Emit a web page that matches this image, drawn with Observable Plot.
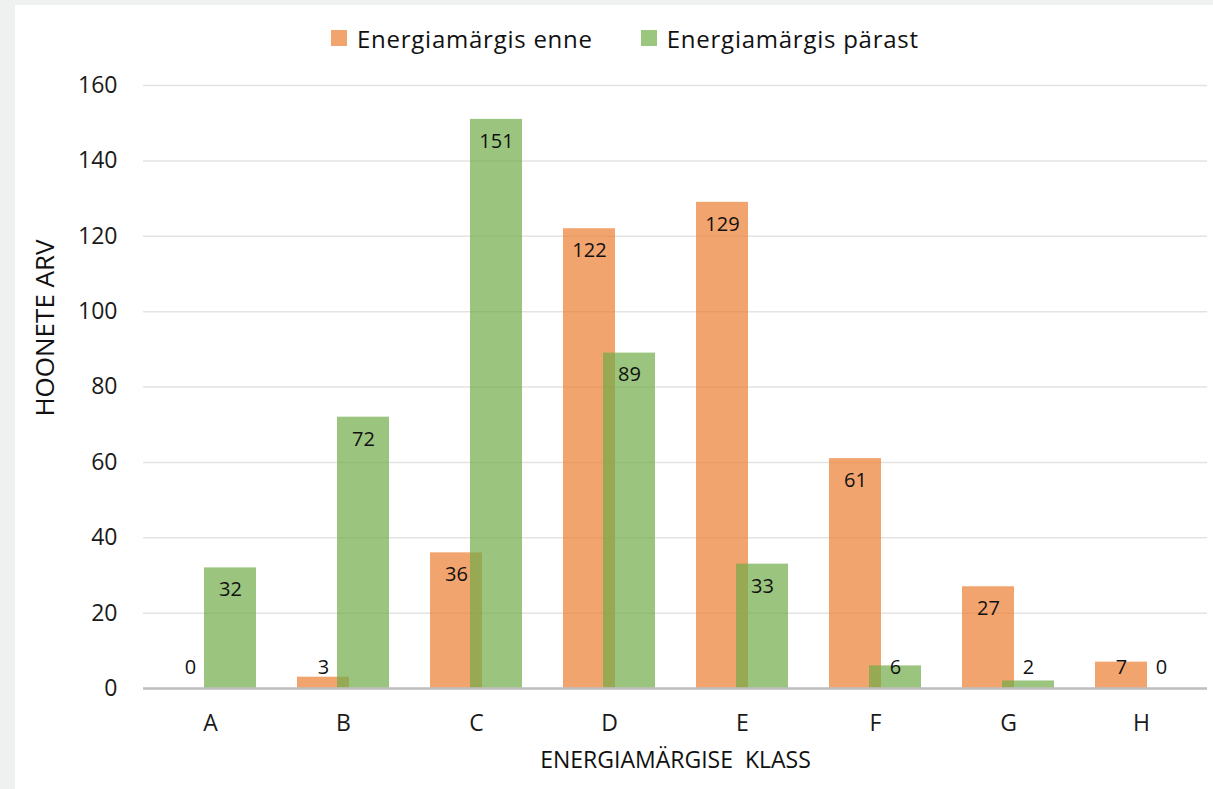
<!DOCTYPE html>
<html>
<head>
<meta charset="utf-8">
<script src="https://cdn.jsdelivr.net/npm/d3@7"></script>
<script src="https://cdn.jsdelivr.net/npm/@observablehq/plot@0.6"></script>
<style>
  html, body { margin: 0; padding: 0; background: #eff1f0; }
  #panel { position: absolute; left: 15px; top: 5px; width: 1198px; height: 784px; background: #ffffff; }
  #legend { position: absolute; left: 316px; top: 17px; height: 32px; display: flex; align-items: center;
            font-family: "Open Sans", sans-serif; font-size: 24px; color: #111; letter-spacing: 0.75px; }
  #legend .item { display: flex; align-items: center; margin-right: 48px; }
  #legend .sw { width: 16px; height: 16px; margin-right: 10px; }
  #chart { position: absolute; left: 0; top: 55px; }
</style>
</head>
<body>
<div id="panel">
  <div id="legend"></div>
  <div id="chart"></div>
</div>
<script>
const categories = ["A", "B", "C", "D", "E", "F", "G", "H"];
const seriesNames = ["Energiamärgis enne", "Energiamärgis pärast"];
const valuesBefore = [0, 3, 36, 122, 129, 61, 27, 7];
const valuesAfter = [32, 72, 151, 89, 33, 6, 2, 0];
const yTicks = [0, 20, 40, 60, 80, 100, 120, 140, 160];
const xTitle = "ENERGIAMÄRGISE  KLASS";
const yTitle = "HOONETE ARV";
const colors = ["#ED7D31", "#70AD47"];
const swatchColors = ["#F2A46F", "#9BC67E"];

const before = categories.map((c, i) => ({cat: c, value: valuesBefore[i]}));
const after = categories.map((c, i) => ({cat: c, value: valuesAfter[i]}));

// legend
const legend = document.getElementById("legend");
seriesNames.forEach((name, i) => {
  const item = document.createElement("div");
  item.className = "item";
  const sw = document.createElement("div");
  sw.className = "sw";
  sw.style.background = swatchColors[i];
  const t = document.createElement("span");
  t.textContent = name;
  item.appendChild(sw);
  item.appendChild(t);
  legend.appendChild(item);
});

const minLabel = 11.4;
const labelY = d => Math.max(d.value, minLabel);

const chart = Plot.plot({
  width: 1198,
  height: 729,
  marginTop: 25,
  marginBottom: 101,
  marginLeft: 128,
  marginRight: 6,
  style: {fontFamily: "Open Sans, sans-serif", fontSize: "23px", color: "#1a1a1a", background: "white", overflow: "visible"},
  x: {domain: categories, paddingInner: 0.61, paddingOuter: 0.305},
  y: {domain: [0, 160]},
  marks: [
    Plot.gridY(yTicks, {stroke: "#e3e3e3", strokeOpacity: 1, strokeWidth: 1.5}),
    Plot.axisY(yTicks, {tickSize: 0, tickPadding: 26, label: null, fontSize: 23}),
    Plot.axisX({tickSize: 0, tickPadding: 26, label: null, fontSize: 23}),
    Plot.barY(before, {x: "cat", y: "value", dx: -20, fill: colors[0], fillOpacity: 0.7}),
    Plot.barY(after, {x: "cat", y: "value", dx: 20, fill: colors[1], fillOpacity: 0.7}),
    Plot.ruleY([0], {stroke: "#bfbfbf", strokeWidth: 2.5}),
    Plot.text(before, {x: "cat", y: labelY, text: d => String(d.value), dx: -20, dy: 22, fontSize: 20, fill: "#111"}),
    Plot.text(after, {x: "cat", y: labelY, text: d => String(d.value), dx: 20, dy: 22, fontSize: 20, fill: "#111"}),
    Plot.text([xTitle], {frameAnchor: "bottom", lineAnchor: "middle", dy: 72, fontSize: 23, fill: "#111"}),
    Plot.text([yTitle], {frameAnchor: "left", textAnchor: "middle", lineAnchor: "middle", dx: -98, dy: -59, rotate: -90, fontSize: 26, fill: "#111"})
  ]
});
document.getElementById("chart").appendChild(chart);
</script>
</body>
</html>
